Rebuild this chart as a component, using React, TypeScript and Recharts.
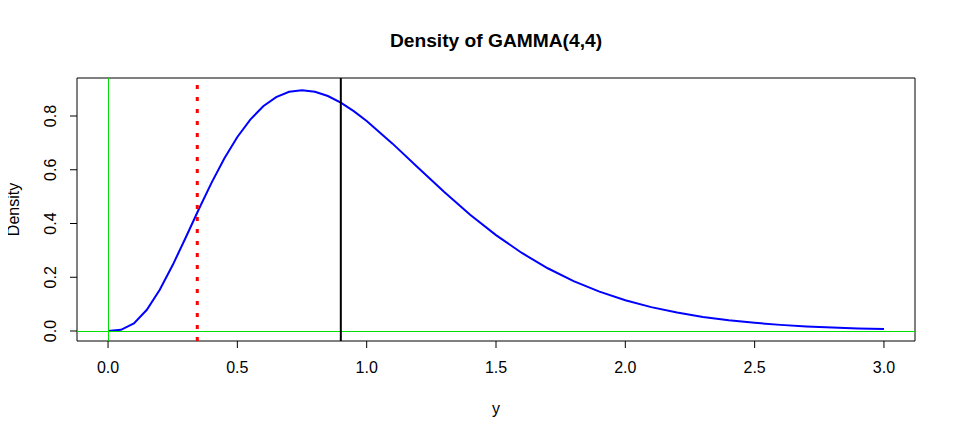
import React from 'react'
import {
  ComposedChart,
  Line,
  XAxis,
  YAxis,
  ReferenceLine,
  ReferenceArea,
} from 'recharts'

// grid of y values and the GAMMA(4,4) density
const yValues = [
  0, 0.05, 0.1, 0.15, 0.2, 0.25, 0.3, 0.35, 0.4, 0.45, 0.5, 0.55, 0.6, 0.65,
  0.7, 0.75, 0.8, 0.85, 0.9, 0.95, 1.0, 1.1, 1.2, 1.3, 1.4, 1.5, 1.6, 1.7, 1.8,
  1.9, 2.0, 2.1, 2.2, 2.3, 2.4, 2.5, 2.6, 2.7, 2.8, 2.9, 3.0,
]
const densityValues = [
  0, 0.0044, 0.0286, 0.079, 0.1534, 0.2453, 0.347, 0.4511, 0.5513, 0.6427,
  0.7218, 0.7866, 0.8361, 0.8703, 0.8899, 0.896, 0.8905, 0.8744, 0.8498,
  0.8183, 0.7815, 0.6972, 0.6068, 0.5171, 0.4329, 0.3569, 0.2904, 0.2335,
  0.1858, 0.1465, 0.1145, 0.0889, 0.0685, 0.0525, 0.0399, 0.0303, 0.0228,
  0.0171, 0.0128, 0.0095, 0.0071,
]
const xTicks = [0, 0.5, 1, 1.5, 2, 2.5, 3]
const yTicks = [0, 0.2, 0.4, 0.6, 0.8]

const redLineAt = 0.345
const blackLineAt = 0.9

const xDomain: [number, number] = [-0.12, 3.12]
const yDomain: [number, number] = [-0.0372, 0.9414]

const data = yValues.map((y, i) => ({ y, density: densityValues[i] }))

const font = '"Liberation Sans", Arial, sans-serif'
const green = '#00E000'

const fmt = (v: number) => v.toFixed(1)

function YTick(props: any) {
  const { x, y, payload } = props
  return (
    <text
      x={x}
      y={y}
      transform={`rotate(-90, ${x}, ${y})`}
      textAnchor="middle"
      fontSize={16}
      fill="#000"
      fontFamily={font}
    >
      {fmt(payload.value)}
    </text>
  )
}

// 1px lines snapped to the pixel grid so they stay crisp like the R output
function CrispLine(props: any) {
  const { x1, y1, x2, y2, stroke } = props
  const vertical = Math.abs(x1 - x2) < 0.01
  const dx = vertical ? 0.5 : 0
  const dy = vertical ? 0 : 0.5
  return (
    <line
      x1={Math.round(x1) + dx}
      y1={Math.round(y1) + dy}
      x2={Math.round(x2) + dx}
      y2={Math.round(y2) + dy}
      stroke={stroke}
      strokeWidth={1}
    />
  )
}

export default function App() {
  return (
    <div style={{ position: 'relative', width: 940, height: 431, fontFamily: font }}>
      <ComposedChart
        width={940}
        height={431}
        data={data}
        margin={{ top: 70, right: 33, bottom: 48, left: 19 }}
      >
        <XAxis
          type="number"
          dataKey="y"
          domain={xDomain}
          ticks={xTicks}
          allowDataOverflow
          height={50}
          axisLine={false}
          tickSize={7}
          tickMargin={14}
          tickLine={{ stroke: '#000' }}
          tick={{ fill: '#000', fontSize: 16, fontFamily: font }}
          tickFormatter={fmt}
        />
        <YAxis
          type="number"
          domain={yDomain}
          ticks={yTicks}
          allowDataOverflow
          width={50}
          axisLine={false}
          tickSize={7}
          tickMargin={14}
          tickLine={{ stroke: '#000' }}
          tick={<YTick />}
        />
        <Line
          type="linear"
          dataKey="density"
          stroke="#0000FF"
          strokeWidth={2}
          dot={false}
          isAnimationActive={false}
        />
        <ReferenceLine x={0} stroke={green} shape={(p: any) => <CrispLine {...p} stroke={green} />} />
        <ReferenceLine y={0} stroke={green} shape={(p: any) => <CrispLine {...p} stroke={green} />} />
        <ReferenceLine
          x={redLineAt}
          stroke="#FF0000"
          strokeWidth={3}
          strokeDasharray="4 8"
        />
        <ReferenceLine x={blackLineAt} stroke="#000" strokeWidth={2} />
        <ReferenceArea
          x1={xDomain[0]}
          x2={xDomain[1]}
          y1={yDomain[0]}
          y2={yDomain[1]}
          fill="none"
          stroke="#000"
          strokeWidth={1}
        />
      </ComposedChart>
      <svg
        width={956}
        height={439}
        style={{ position: 'absolute', left: -8, top: -8, pointerEvents: 'none' }}
      >
        <text
          x={496}
          y={47}
          textAnchor="middle"
          fontSize={19.2}
          fontWeight="bold"
          fontFamily={font}
          fill="#000"
        >
          Density of GAMMA(4,4)
        </text>
        <text x={496} y={414} textAnchor="middle" fontSize={16} fontFamily={font} fill="#000">
          y
        </text>
        <text
          x={19}
          y={209.5}
          transform="rotate(-90, 19, 209.5)"
          textAnchor="middle"
          fontSize={16}
          fontFamily={font}
          fill="#000"
        >
          Density
        </text>
      </svg>
    </div>
  )
}
